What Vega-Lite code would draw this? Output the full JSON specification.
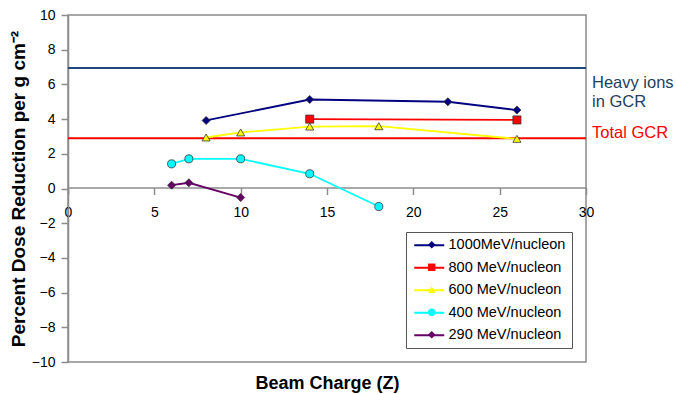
{
  "$schema": "https://vega.github.io/schema/vega-lite/v6.json",
  "width": 518,
  "height": 347,
  "autosize": {"type": "none"},
  "padding": {"left": 68, "top": 15, "right": 90, "bottom": 32},
  "background": "white",
  "config": {
    "font": "Liberation Sans",
    "view": {"stroke": "#8c8c8c", "strokeWidth": 1.5},
    "axis": {"grid": false}
  },
  "datasets": {
    "series": [
      {"series": "1000MeV/nucleon", "z": 8, "pct": 3.92},
      {"series": "1000MeV/nucleon", "z": 14, "pct": 5.13},
      {"series": "1000MeV/nucleon", "z": 22, "pct": 5.0},
      {"series": "1000MeV/nucleon", "z": 26, "pct": 4.52},
      {"series": "800 MeV/nucleon", "z": 14, "pct": 4.0},
      {"series": "800 MeV/nucleon", "z": 26, "pct": 3.95},
      {"series": "600 MeV/nucleon", "z": 8, "pct": 2.94},
      {"series": "600 MeV/nucleon", "z": 10, "pct": 3.23},
      {"series": "600 MeV/nucleon", "z": 14, "pct": 3.57},
      {"series": "600 MeV/nucleon", "z": 18, "pct": 3.59},
      {"series": "600 MeV/nucleon", "z": 26, "pct": 2.86},
      {"series": "400 MeV/nucleon", "z": 6, "pct": 1.42},
      {"series": "400 MeV/nucleon", "z": 7, "pct": 1.71},
      {"series": "400 MeV/nucleon", "z": 10, "pct": 1.71},
      {"series": "400 MeV/nucleon", "z": 14, "pct": 0.85},
      {"series": "400 MeV/nucleon", "z": 18, "pct": -1.04},
      {"series": "290 MeV/nucleon", "z": 6, "pct": 0.19},
      {"series": "290 MeV/nucleon", "z": 7, "pct": 0.33},
      {"series": "290 MeV/nucleon", "z": 10, "pct": -0.52}
    ],
    "refs": [
      {"name": "Heavy ions", "label": "Heavy ions\nin GCR", "pct": 6.95},
      {"name": "Total GCR", "label": "Total GCR", "pct": 2.9}
    ]
  },
  "encoding": {
    "y": {
      "field": "pct",
      "type": "quantitative",
      "scale": {"domain": [-10, 10], "nice": false, "zero": false},
      "axis": {
        "title": "Percent Dose Reduction per g cm⁻²",
        "titleFont": "Liberation Sans",
        "titleFontSize": 19,
        "titleFontWeight": "bold",
        "titleColor": "#000000",
        "titleX": -50,
        "titleY": 173.5,
        "titleAngle": 270,
        "titleAlign": "center",
        "titleBaseline": "middle",
        "values": [-10, -8, -6, -4, -2, 0, 2, 4, 6, 8, 10],
        "format": "d",
        "labelFontSize": 14,
        "labelColor": "#000000",
        "labelPadding": 6,
        "tickSize": 7,
        "tickColor": "#8c8c8c",
        "tickWidth": 1.5,
        "domainColor": "#8c8c8c",
        "domainWidth": 1.5
      }
    }
  },
  "layer": [
    {
      "data": {"name": "refs"},
      "transform": [{"filter": "datum.name === 'Heavy ions'"}],
      "mark": {"type": "rule", "color": "#1F497D", "strokeWidth": 2}
    },
    {
      "data": {"name": "refs"},
      "transform": [{"filter": "datum.name === 'Total GCR'"}],
      "mark": {"type": "rule", "color": "#FF0000", "strokeWidth": 2}
    },
    {
      "data": {"name": "refs"},
      "transform": [{"filter": "datum.name === 'Heavy ions'"}],
      "mark": {"type": "text", "align": "left", "baseline": "middle", "dx": 6, "dy": 15, "fontSize": 16.5, "lineHeight": 19, "lineBreak": "\n", "color": "#243F60"},
      "encoding": {
        "x": {"datum": 30, "type": "quantitative"},
        "text": {"field": "label"}
      }
    },
    {
      "data": {"name": "refs"},
      "transform": [{"filter": "datum.name === 'Total GCR'"}],
      "mark": {"type": "text", "align": "left", "baseline": "middle", "dx": 6, "dy": -5, "fontSize": 16.5, "color": "#FF0000"},
      "encoding": {
        "x": {"datum": 30, "type": "quantitative"},
        "text": {"field": "label"}
      }
    },
    {
      "data": {"name": "series"},
      "mark": {"type": "line", "strokeWidth": 1.8},
      "encoding": {
        "x": {
          "field": "z",
          "type": "quantitative",
          "scale": {"domain": [0, 30], "nice": false},
          "axis": {
            "title": "Beam Charge (Z)",
            "titleFont": "Liberation Sans",
            "titleFontSize": 18,
            "titleFontWeight": "bold",
            "titleColor": "#000000",
            "titleX": 259,
            "titleY": 195.5,
            "titleBaseline": "middle",
            "titleAlign": "center",
            "offset": -174.5,
            "values": [0, 5, 10, 15, 20, 25, 30],
            "labelFontSize": 14,
            "labelColor": "#000000",
            "labelPadding": 11,
            "labelFlush": false,
            "tickSize": 7,
            "tickColor": "#8c8c8c",
            "tickWidth": 1.5,
            "domainColor": "#8c8c8c",
            "domainWidth": 1.5
          }
        },
        "stroke": {
          "field": "series",
          "type": "nominal",
          "scale": {
            "domain": ["1000MeV/nucleon", "800 MeV/nucleon", "600 MeV/nucleon", "400 MeV/nucleon", "290 MeV/nucleon"],
            "range": ["#000080", "#FF0000", "#FFFF00", "#00FFFF", "#660066"]
          },
          "legend": {
            "title": null,
            "orient": "bottom-right",
            "offset": 14,
            "padding": 6,
            "rowPadding": 7.5,
            "strokeColor": "#555555",
            "symbolType": "M-1.25,0H6.25",
            "symbolSize": 64,
            "symbolStrokeWidth": 2,
            "labelFont": "Liberation Sans",
            "labelFontSize": 14.5,
            "labelColor": "#000000",
            "labelOffset": 22,
            "labelLimit": 300
          }
        }
      }
    },
    {
      "data": {"name": "series"},
      "mark": {"type": "point", "filled": true, "size": 65, "stroke": "#333333", "strokeWidth": 0.8, "opacity": 1},
      "encoding": {
        "x": {"field": "z", "type": "quantitative"},
        "fill": {
          "field": "series",
          "type": "nominal",
          "scale": {
            "domain": ["1000MeV/nucleon", "800 MeV/nucleon", "600 MeV/nucleon", "400 MeV/nucleon", "290 MeV/nucleon"],
            "range": ["#000080", "#FF0000", "#FFFF00", "#00FFFF", "#660066"]
          },
          "legend": null
        },
        "shape": {
          "field": "series",
          "type": "nominal",
          "scale": {
            "domain": ["1000MeV/nucleon", "800 MeV/nucleon", "600 MeV/nucleon", "400 MeV/nucleon", "290 MeV/nucleon"],
            "range": ["diamond", "square", "triangle-up", "circle", "diamond"]
          },
          "legend": {
            "title": null,
            "orient": "none",
            "legendX": 356.5,
            "legendY": 222.5,
            "padding": 0,
            "rowPadding": 7.5,
            "symbolSize": 55,
            "symbolStrokeColor": "#333333",
            "symbolStrokeWidth": 0.8,
            "labelFont": "Liberation Sans",
            "labelFontSize": 14.5,
            "labelOpacity": 0,
            "labelLimit": 300,
            "encode": {
              "symbols": {
                "update": {
                  "fill": {"scale": "fill", "field": "value"},
                  "stroke": {"value": "#333333"},
                  "opacity": {"value": 1}
                }
              }
            }
          }
        }
      }
    }
  ]
}
